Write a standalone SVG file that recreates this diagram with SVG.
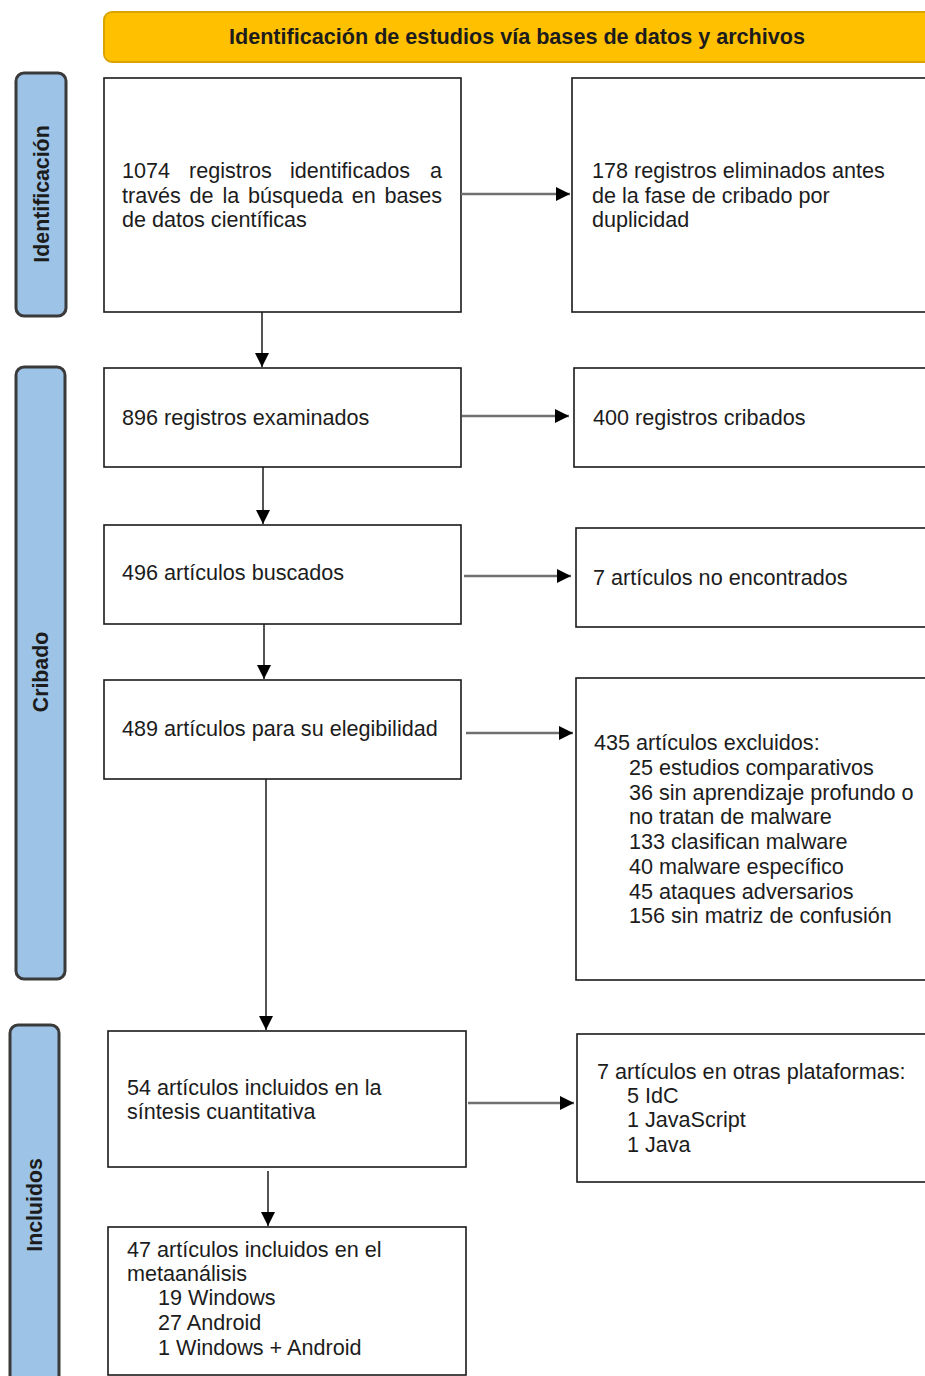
<svg xmlns="http://www.w3.org/2000/svg" width="925" height="1376" viewBox="0 0 925 1376">
<style>
.box{fill:#fff;stroke:#1a1a1a;stroke-width:1.6}
.side{fill:#9dc3e6;stroke:#3a3a3a;stroke-width:3}
.t{font-family:"Liberation Sans",Arial,sans-serif;font-size:21.6px;fill:#1c1c1c}
.sl{font-family:"Liberation Sans",Arial,sans-serif;font-size:21.3px;font-weight:bold;fill:#1c1c1c;text-anchor:middle}
.h{fill:none;stroke:#707070;stroke-width:2.5}
.v{fill:none;stroke:#1a1a1a;stroke-width:1.5}
</style>
<defs>
<marker id="ah" viewBox="0 0 10 10" refX="10" refY="5" markerWidth="14" markerHeight="14" markerUnits="userSpaceOnUse" orient="auto">
<path d="M0,0 L10,5 L0,10 z" fill="#000"/>
</marker>
</defs>
<rect width="925" height="1376" fill="#fff"/>

<g id="header">
<rect x="104" y="12" width="840" height="50" rx="8" fill="#ffc000" stroke="#d9a300" stroke-width="2"/>
<text x="517" y="44" font-family="Liberation Sans,Arial,sans-serif" font-size="21.6" font-weight="bold" fill="#1c1c1c" text-anchor="middle">Identificación de estudios vía bases de datos y archivos</text>
</g>

<g id="side-identificacion">
<rect class="side" x="16" y="73" width="50" height="243" rx="8"/>
<text class="sl" transform="translate(49,194) rotate(-90)">Identificación</text>
</g>
<g id="side-cribado">
<rect class="side" x="16" y="367" width="49" height="612" rx="8"/>
<text class="sl" transform="translate(48,672) rotate(-90)">Cribado</text>
</g>
<g id="side-incluidos">
<rect class="side" x="10" y="1025" width="49" height="370" rx="8"/>
<text class="sl" transform="translate(42,1205) rotate(-90)">Incluidos</text>
</g>

<g id="n1">
<rect class="box" x="104" y="78" width="357" height="234"/>
<text class="t" y="178"><tspan x="122">1074</tspan><tspan x="189">registros</tspan><tspan x="290">identificados</tspan><tspan x="430">a</tspan></text>
<text class="t" x="122" y="203" word-spacing="2.8">través de la búsqueda en bases</text>
<text class="t" x="122" y="227">de datos científicas</text>
</g>
<g id="n2">
<rect class="box" x="572" y="78" width="370" height="234"/>
<text class="t" x="592" y="178">178 registros eliminados antes</text>
<text class="t" x="592" y="203">de la fase de cribado por</text>
<text class="t" x="592" y="227">duplicidad</text>
</g>
<g id="n3">
<rect class="box" x="104" y="368" width="357" height="99"/>
<text class="t" x="122" y="425">896 registros examinados</text>
</g>
<g id="n4">
<rect class="box" x="574" y="368" width="368" height="99"/>
<text class="t" x="593" y="425">400 registros cribados</text>
</g>
<g id="n5">
<rect class="box" x="104" y="525" width="357" height="99"/>
<text class="t" x="122" y="580">496 artículos buscados</text>
</g>
<g id="n6">
<rect class="box" x="576" y="528" width="366" height="99"/>
<text class="t" x="593" y="585">7 artículos no encontrados</text>
</g>
<g id="n7">
<rect class="box" x="104" y="680" width="357" height="99"/>
<text class="t" x="122" y="736">489 artículos para su elegibilidad</text>
</g>
<g id="n8">
<rect class="box" x="576" y="678" width="366" height="302"/>
<text class="t" x="594" y="750">435 artículos excluidos:</text>
<text class="t" x="629" y="775">25 estudios comparativos</text>
<text class="t" x="629" y="800">36 sin aprendizaje profundo o</text>
<text class="t" x="629" y="824">no tratan de malware</text>
<text class="t" x="629" y="849">133 clasifican malware</text>
<text class="t" x="629" y="874">40 malware específico</text>
<text class="t" x="629" y="899">45 ataques adversarios</text>
<text class="t" x="629" y="923">156 sin matriz de confusión</text>
</g>
<g id="n9">
<rect class="box" x="108" y="1031" width="358" height="136"/>
<text class="t" x="127" y="1095">54 artículos incluidos en la</text>
<text class="t" x="127" y="1119">síntesis cuantitativa</text>
</g>
<g id="n10">
<rect class="box" x="577" y="1034" width="365" height="148"/>
<text class="t" x="597" y="1079">7 artículos en otras plataformas:</text>
<text class="t" x="627" y="1103">5 IdC</text>
<text class="t" x="627" y="1127">1 JavaScript</text>
<text class="t" x="627" y="1152">1 Java</text>
</g>
<g id="n11">
<rect class="box" x="108" y="1227" width="358" height="148"/>
<text class="t" x="127" y="1257">47 artículos incluidos en el</text>
<text class="t" x="127" y="1281">metaanálisis</text>
<text class="t" x="158" y="1305">19 Windows</text>
<text class="t" x="158" y="1330">27 Android</text>
<text class="t" x="158" y="1355">1 Windows + Android</text>
</g>

<g id="connectors">
<line class="h" x1="461" y1="194" x2="570" y2="194" marker-end="url(#ah)"/>
<line class="h" x1="462" y1="416" x2="569" y2="416" marker-end="url(#ah)"/>
<line class="h" x1="464" y1="576" x2="571" y2="576" marker-end="url(#ah)"/>
<line class="h" x1="466" y1="733" x2="573" y2="733" marker-end="url(#ah)"/>
<line class="h" x1="468" y1="1103" x2="574" y2="1103" marker-end="url(#ah)"/>
<line class="v" x1="262" y1="312" x2="262" y2="367" marker-end="url(#ah)"/>
<line class="v" x1="263" y1="467" x2="263" y2="524" marker-end="url(#ah)"/>
<line class="v" x1="264" y1="624" x2="264" y2="679" marker-end="url(#ah)"/>
<line class="v" x1="266" y1="779" x2="266" y2="1030" marker-end="url(#ah)"/>
<line class="v" x1="268" y1="1171" x2="268" y2="1226" marker-end="url(#ah)"/>
</g>
</svg>
